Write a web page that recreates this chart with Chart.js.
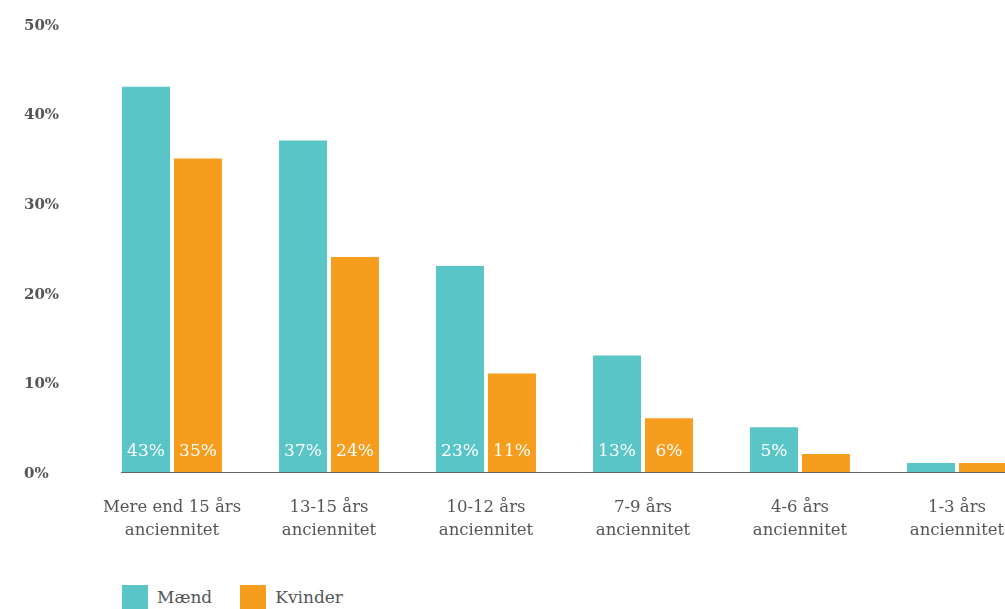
<!DOCTYPE html>
<html>
<head>
<meta charset="utf-8">
<script src="https://cdn.jsdelivr.net/npm/chart.js@4"></script>
<style>
    html, body { margin: 0; padding: 0; background: #fff; overflow: hidden; }
    #wrap { position: relative; width: 1040px; height: 609px; }
    #chartBox { position: absolute; left: 0; top: 0; width: 1040px; height: 570px; }
    #legend { position: absolute; left: 122px; top: 585px; display: flex; font-family: 'DejaVu Serif', serif; font-size: 17px; color: #555; }
    .item { display: flex; align-items: center; margin-right: 28px; }
    .swatch { width: 26px; height: 24px; margin-right: 9px; }
</style>
</head>
<body>
<div id="wrap">
    <div id="chartBox"><canvas id="chart"></canvas></div>
    <div id="legend"></div>
</div>
<script>
// data
const categories = [
    ['Mere end 15 års', 'anciennitet'],
    ['13-15 års', 'anciennitet'],
    ['10-12 års', 'anciennitet'],
    ['7-9 års', 'anciennitet'],
    ['4-6 års', 'anciennitet'],
    ['1-3 års', 'anciennitet']
];
const maend = [43, 37, 23, 13, 5, 1];
const kvinder = [35, 24, 11, 6, 2, 1];
const seriesNames = ['Mænd', 'Kvinder'];
const yTicks = [0, 10, 20, 30, 40, 50];

const TEAL = '#5AC5C7';
const ORANGE = '#F79D1E';
const TEXT = '#555';
const FONT = "'DejaVu Serif', serif";

// value labels inside bars + baseline
const barLabels = {
    id: 'barLabels',
    afterDatasetsDraw(chart) {
        const ctx = chart.ctx;
        const y0 = chart.scales.y.getPixelForValue(0);
        ctx.save();
        ctx.font = '17px ' + FONT;
        ctx.fillStyle = '#fff';
        ctx.textAlign = 'center';
        ctx.textBaseline = 'middle';
        chart.data.datasets.forEach((ds, i) => {
            chart.getDatasetMeta(i).data.forEach((bar, j) => {
                if (ds.data[j] >= 5) ctx.fillText(ds.data[j] + '%', bar.x, y0 - 20);
            });
        });
        const first = chart.getDatasetMeta(0).data[0];
        ctx.strokeStyle = '#666';
        ctx.lineWidth = 1;
        ctx.beginPath();
        ctx.moveTo(first.x - first.width / 2 - 1, Math.round(y0) + 0.5);
        ctx.lineTo(chart.chartArea.right, Math.round(y0) + 0.5);
        ctx.stroke();
        ctx.restore();
    }
};

const chart = new Chart(document.getElementById('chart'), {
    type: 'bar',
    data: {
        labels: categories,
        datasets: [
            { label: seriesNames[0], data: maend, backgroundColor: TEAL },
            { label: seriesNames[1], data: kvinder, backgroundColor: ORANGE }
        ]
    },
    options: {
        responsive: true,
        maintainAspectRatio: false,
        animation: false,
        layout: { padding: { left: 24, right: 4.5, top: 24, bottom: 0 } },
        datasets: { bar: { categoryPercentage: 0.662, barPercentage: 0.923 } },
        plugins: { legend: { display: false }, tooltip: { enabled: false } },
        scales: {
            x: {
                grid: { display: false },
                border: { display: false },
                ticks: { color: TEXT, padding: 16, font: { family: FONT, size: 16.5, lineHeight: 1.42 }, maxRotation: 0, autoSkip: false },
                afterFit(scale) { scale.height = 98; }
            },
            y: {
                min: 0, max: 50,
                afterBuildTicks(scale) { scale.ticks = yTicks.map(v => ({ value: v })); },
                grid: { display: false },
                border: { display: false },
                ticks: {
                    color: TEXT, crossAlign: 'far', padding: 0, labelOffset: 2,
                    font: { family: FONT, size: 15, weight: 'bold' },
                    callback: v => v + '%'
                },
                afterFit(scale) { scale.width = 69.5; }
            }
        }
    },
    plugins: [barLabels]
});

// html legend
const legendEl = document.getElementById('legend');
chart.data.datasets.forEach(ds => {
    const item = document.createElement('div');
    item.className = 'item';
    item.innerHTML = `<span class="swatch" style="background:${ds.backgroundColor}"></span><span>${ds.label}</span>`;
    legendEl.appendChild(item);
});
</script>
</body>
</html>
